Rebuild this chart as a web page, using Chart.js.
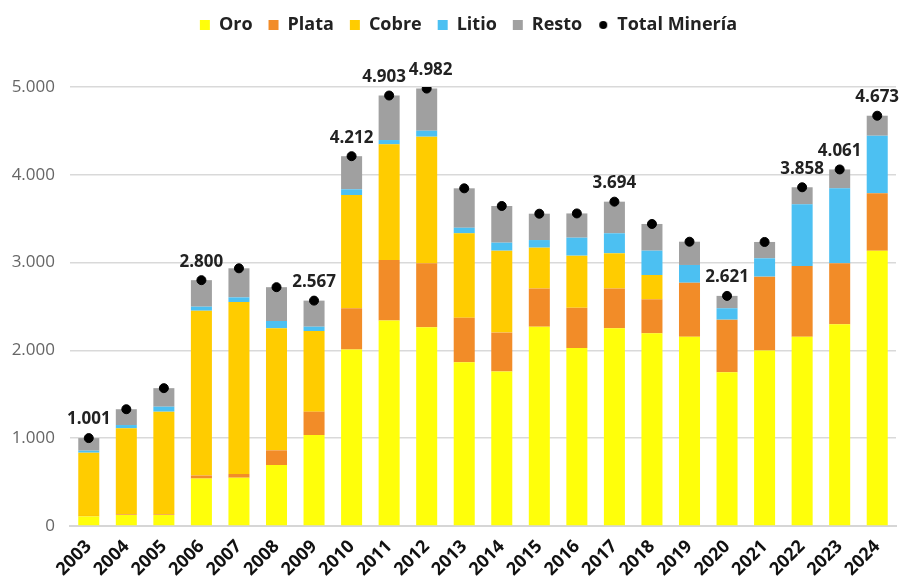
<!DOCTYPE html>
<html>
<head>
<meta charset="utf-8">
<script src="https://cdn.jsdelivr.net/npm/chart.js@4/dist/chart.umd.min.js"></script>
<style>
html,body{margin:0;padding:0;background:#fff;}
#wrap{width:903px;height:579px;position:relative;}
</style>
</head>
<body>
<div id="wrap"><canvas id="c"></canvas></div>
<script>
const years = ['2003','2004','2005','2006','2007','2008','2009','2010','2011','2012','2013','2014','2015','2016','2017','2018','2019','2020','2021','2022','2023','2024'];
const oro    = [110,125,125,540,550,695,1036,2010,2340,2263,1866,1760,2270,2027,2252,2195,2156,1752,2000,2156,2297,3136];
const plata  = [5,8,8,35,42,167,266,470,690,729,506,443,435,458,453,387,615,598,840,805,695,653];
const cobre  = [720,980,1169,1877,1959,1390,919,1290,1317,1442,961,933,465,594,401,277,0,0,0,0,0,0];
const litio  = [23,37,57,46,53,83,49,65,49,68,64,91,87,205,228,277,202,130,209,703,854,656];
const resto  = [143,180,211,302,331,385,297,377,507,480,449,418,300,276,360,304,265,141,186,194,215,228];
const total  = [1001,1330,1570,2800,2935,2720,2567,4212,4903,4982,3846,3645,3557,3560,3694,3440,3238,2621,3235,3858,4061,4673];
const showTotal = [true,false,false,true,false,false,true,true,true,true,false,false,false,false,true,false,false,true,false,true,true,true];
const yTicks = [0,1000,2000,3000,4000,5000];

function fmt(v){ return String(Math.round(v)).replace(/\B(?=(\d{3})+(?!\d))/g,'.'); }

const FONT = "'Open Sans', 'DejaVu Sans', sans-serif";

const dot = document.createElement('canvas');
dot.width = 12; dot.height = 12;
(function(){ const g = dot.getContext('2d'); g.fillStyle = '#000'; g.beginPath(); g.arc(6,6,4,0,Math.PI*2); g.fill(); })();

const totalLabels = {
  id: 'totalLabels',
  afterDatasetsDraw(chart, args, opts) {
    const ctx = chart.ctx;
    const meta = chart.getDatasetMeta(5);
    ctx.save();
    ctx.font = "bold 17px " + FONT;
    ctx.fillStyle = '#222';
    ctx.textAlign = 'center';
    ctx.textBaseline = 'bottom';
    meta.data.forEach((pt, i) => {
      if (!showTotal[i]) return;
      const dx = (opts.shift && opts.shift[i]) || 0;
      ctx.fillText(fmt(total[i]), pt.x + dx, pt.y - 10);
    });
    ctx.restore();
  }
};

const legendGap = {
  id: 'legendGap',
  beforeInit(chart) {
    const orig = chart.legend.fit;
    chart.legend.fit = function() { orig.call(this); this.height += 43; };
  },
  afterLayout(chart) {
    chart.legend.left += 15;
    chart.legend.right += 15;
  }
};

const barCommon = { stack: 'mine', barPercentage: 0.56, categoryPercentage: 1.0, borderWidth: 0, pointStyle: 'rect', order: 1 };

function build() {
  new Chart(document.getElementById('c'), {
    type: 'bar',
    data: {
      labels: years,
      datasets: [
        Object.assign({ label: 'Oro', data: oro, backgroundColor: '#FFFF0A' }, barCommon),
        Object.assign({ label: 'Plata', data: plata, backgroundColor: '#F28C28' }, barCommon),
        Object.assign({ label: 'Cobre', data: cobre, backgroundColor: '#FFCC00' }, barCommon),
        Object.assign({ label: 'Litio', data: litio, backgroundColor: '#4CC0F2' }, barCommon),
        Object.assign({ label: 'Resto', data: resto, backgroundColor: '#A0A0A0' }, barCommon),
        { type: 'line', label: 'Total Minería', data: total, stack: 'total', showLine: false,
          pointRadius: 4.5, pointHoverRadius: 4.5, pointBackgroundColor: '#000', pointBorderColor: '#000',
          backgroundColor: '#000', borderColor: '#000', pointStyle: 'circle', order: 0 }
      ]
    },
    options: {
      responsive: true,
      maintainAspectRatio: false,
      animation: false,
      layout: { padding: { top: 0, right: 7, left: 11, bottom: 0 } },
      plugins: {
        legend: {
          position: 'top',
          labels: {
            usePointStyle: true,
            boxWidth: 10, boxHeight: 10,
            padding: 16,
            color: '#222',
            font: { family: FONT, size: 18, weight: 'bold' },
            sort: (a, b) => a.datasetIndex - b.datasetIndex,
            generateLabels(chart) {
              const items = Chart.defaults.plugins.legend.labels.generateLabels(chart);
              items.forEach(it => { if (it.datasetIndex === 5) it.pointStyle = dot; });
              return items;
            }
          }
        },
        tooltip: { enabled: false },
        totalLabels: { shift: { 8: -5, 9: 4 } }
      },
      scales: {
        x: {
          stacked: true,
          grid: { display: false },
          border: { display: true, color: '#d6d6d6', width: 2 },
          ticks: {
            color: '#111', maxRotation: 45, minRotation: 45, padding: 2,
            font: { family: FONT, size: 18, weight: 'bold' }
          },
          afterFit(scale) {
            scale.height = 53;
            scale.paddingLeft = 0;
            scale.paddingRight = 0;
          }
        },
        y: {
          stacked: true,
          min: 0, max: 5000,
          afterBuildTicks(scale) { scale.ticks = yTicks.map(v => ({ value: v })); },
          grid: { color: '#d9d9d9', lineWidth: 1.5, drawTicks: false },
          border: { display: false },
          ticks: {
            color: '#666', padding: 15,
            font: { family: FONT, size: 17 },
            callback: v => fmt(v)
          },
          afterFit(scale) {
            scale.width = 59;
          }
        }
      }
    },
    plugins: [totalLabels, legendGap]
  });
}

const loads = [
  document.fonts.load("bold 18px 'Open Sans'"),
  document.fonts.load("17px 'Open Sans'")
];
Promise.all(loads).then(build, build);
</script>
</body>
</html>
